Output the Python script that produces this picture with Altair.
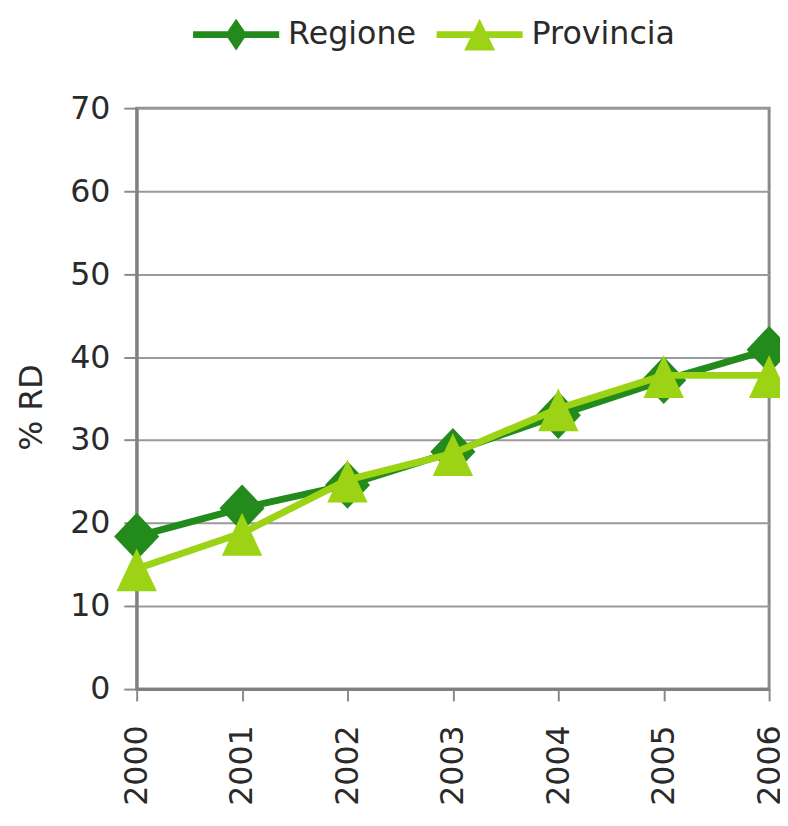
import altair as alt
import pandas as pd

years = ["2000", "2001", "2002", "2003", "2004", "2005", "2006"]
regione = [18.4, 21.8, 24.6, 28.6, 33.0, 37.2, 40.9]
provincia = [14.5, 18.8, 25.2, 28.4, 33.8, 37.8, 37.8]
series = ["Regione", "Provincia"]
colors = ["#238A1C", "#9CD314"]
y_ticks = [0, 10, 20, 30, 40, 50, 60, 70]

rows = []
for s, vals in zip(series, [regione, provincia]):
    for yr, v in zip(years, vals):
        rows.append({"anno": yr, "serie": s, "valore": v})
df = pd.DataFrame(rows)

FONT = "DejaVu Sans"

# marker shapes (unit square -1..1 scaled by sqrt(size)/2)
diamond = "M0,-1 L0.95,0 L0,1 L-0.95,0 Z"
triangle = "M0,-0.85 L0.85,0.95 L-0.85,0.95 Z"
# legend symbols: line segment + marker
leg_diamond = ("M-1,-0.08 L1,-0.08 L1,0.08 L-1,0.08 Z "
               "M0,-0.37 L0.25,0 L0,0.37 L-0.25,0 Z")
leg_triangle = ("M-1,-0.08 L1,-0.08 L1,0.08 L-1,0.08 Z "
                "M0,-0.37 L0.36,0.37 L-0.36,0.37 Z")

x_enc = alt.X("anno:O", sort=years,
              scale=alt.Scale(type="point", padding=0),
              axis=alt.Axis(title=None, labelAngle=270, labelAlign="right",
                            labelBaseline="middle", labelFont=FONT,
                            labelFontSize=32, labelColor="#2a2a2a",
                            labelPadding=24, tickSize=12, tickColor="#8a8a8a",
                            tickWidth=2, domainColor="#808080", domainWidth=3,
                            grid=False))
y_enc = alt.Y("valore:Q",
              scale=alt.Scale(domain=[0, 70], nice=False, zero=True),
              axis=alt.Axis(title="% RD", values=y_ticks, labelFont=FONT,
                            labelFontSize=32, labelColor="#2a2a2a",
                            labelPadding=14, tickSize=13, tickColor="#8a8a8a",
                            tickWidth=2, domainColor="#808080", domainWidth=3,
                            grid=True, gridColor="#9a9a9a", gridWidth=2,
                            titleFont=FONT, titleFontSize=32,
                            titleFontWeight="normal", titleColor="#2a2a2a",
                            titleAngle=270, titleAlign="center",
                            titleBaseline="middle", titleX=-106, titleY=302))

base = alt.Chart(df)

layers = []
shapes = [diamond, triangle]
for s, c, shp in zip(series, colors, shapes):
    sub = base.transform_filter(alt.datum.serie == s)
    layers.append(sub.mark_line(color=c, strokeWidth=7, strokeJoin="round")
                  .encode(x=x_enc, y=y_enc))
    layers.append(sub.mark_point(shape=shp, size=2304, filled=True,
                                 opacity=1, color=c)
                  .encode(x=x_enc, y=y_enc))

legend_layer = base.transform_filter("false").mark_point(
    filled=True, opacity=1).encode(
    x=x_enc, y=y_enc,
    color=alt.Color("serie:N",
                    scale=alt.Scale(domain=series, range=colors),
                    legend=alt.Legend(title=None)),
    shape=alt.Shape("serie:N",
                    scale=alt.Scale(domain=series,
                                    range=[leg_diamond, leg_triangle]),
                    legend=alt.Legend(title=None)),
)

chart = alt.layer(*layers, legend_layer).properties(
    width=639, height=587,
    autosize=alt.AutoSizeParams(type="none"),
    padding={"left": 130, "top": 97, "right": 11, "bottom": 118},
    background="white",
).configure_view(
    stroke="#8a8a8a", strokeWidth=3
).configure_legend(
    orient="none", legendX=57, legendY=-118, direction="horizontal",
    symbolSize=7569, symbolStrokeWidth=0, labelFont=FONT,
    labelFontSize=32, labelColor="#2a2a2a", labelOffset=9,
    columnPadding=20, padding=0, labelLimit=300,
)

chart.save("out.html", embed_options={"renderer": "svg", "actions": False})
